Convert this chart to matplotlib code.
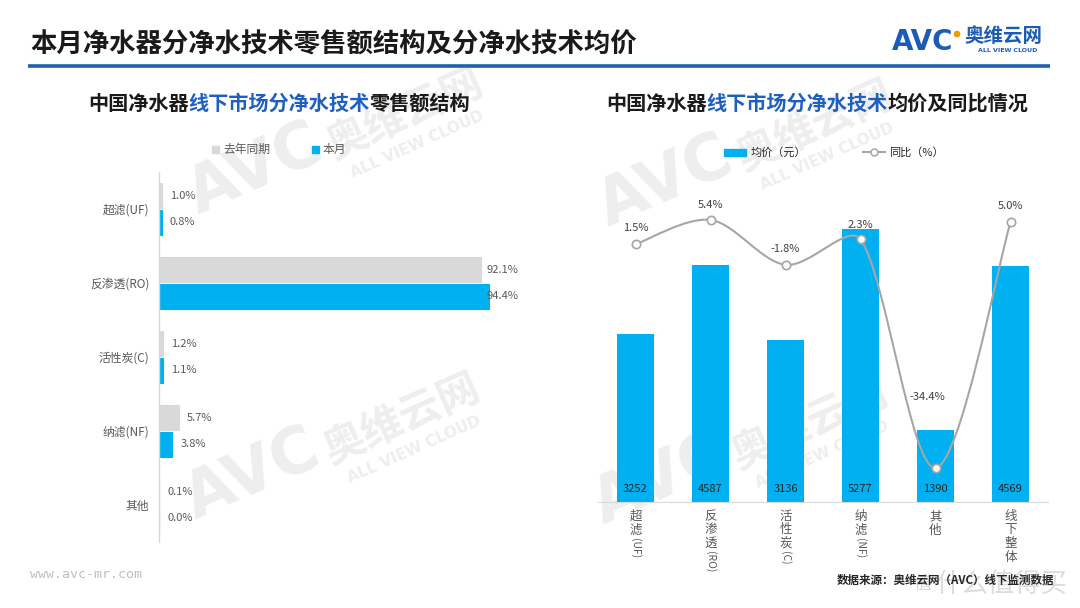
import numpy as np
import matplotlib
matplotlib.use('Agg')
import matplotlib.pyplot as plt
from matplotlib.path import Path
from matplotlib.patches import PathPatch, Rectangle, Circle
from matplotlib.lines import Line2D

plt.rcParams['font.family'] = ['Noto Sans CJK SC', 'DejaVu Sans']

# ---------------- data ----------------
left_categories = ['超滤(UF)', '反渗透(RO)', '活性炭(C)', '纳滤(NF)', '其他']
share_last_year = [1.0, 92.1, 1.2, 5.7, 0.1]
share_this_month = [0.8, 94.4, 1.1, 3.8, 0.0]

right_categories = ['超滤(UF)', '反渗透(RO)', '活性炭(C)', '纳滤(NF)', '其他', '线下整体']
avg_price = [3252, 4587, 3136, 5277, 1390, 4569]
yoy = [1.5, 5.4, -1.8, 2.3, -34.4, 5.0]

title = '本月净水器分净水技术零售额结构及分净水技术均价'
sub_left = ['中国净水器', '线下市场分净水技术', '零售额结构']
sub_right = ['中国净水器', '线下市场分净水技术', '均价及同比情况']
legend_left = ['去年同期', '本月']
legend_right = ['均价（元）', '同比（%）']
source = '数据来源：奥维云网（AVC）线下监测数据'
site = 'www.avc-mr.com'

# ---------------- style ----------------
W, H = 1080, 608
BLUE = '#00B0F0'
GRAY = '#D9D9D9'
LINE = '#A6A6A6'
TXT = '#595959'
DARK_BLUE = '#1F5FB4'

fig = plt.figure(figsize=(W / 100, H / 100), dpi=100)
fig.patch.set_facecolor('white')

# background axes in pixel coordinates for decorations
bg = fig.add_axes([0, 0, 1, 1], zorder=0)
bg.set_xlim(0, W)
bg.set_ylim(H, 0)
bg.axis('off')

# watermarks
WM = '#EEEEEE'
def watermark(cx, cy):
    bg.text(cx, cy, 'AVC', fontsize=46, fontweight='bold', color=WM, rotation=24,
            ha='center', va='center', family='DejaVu Sans', zorder=0)
    bg.text(cx + 150, cy - 55, '奥维云网', fontsize=30, fontweight='bold', color=WM,
            rotation=24, ha='center', va='center', zorder=0)
    bg.text(cx + 162, cy - 25, 'ALL VIEW CLOUD', fontsize=11, fontweight='bold',
            color=WM, rotation=24, ha='center', va='center', family='DejaVu Sans', zorder=0)

for c in [(255, 170), (252, 475), (665, 182), (660, 480)]:
    watermark(*c)

# title
bg.text(30, 45, title, fontsize=19, fontweight='bold', color='#1A1A1A', va='center', ha='left')
bg.plot([28, 1050], [66, 66], color=DARK_BLUE, lw=2.6, solid_capstyle='butt')

# logo
bg.text(892, 42, 'AVC', fontsize=20, fontweight='bold', color='#1B5CB4', va='center',
        ha='left', family='DejaVu Sans')
bg.add_patch(Circle((957, 34), 2.6, color='#F39800'))
bg.text(964, 37, '奥维云网', fontsize=14, fontweight='bold', color='#1B5CB4', va='center', ha='left')
bg.text(1008, 50, 'ALL VIEW CLOUD', fontsize=4.5, fontweight='bold', color='#1B5CB4',
        va='center', ha='center', family='DejaVu Sans')

# mixed colour subtitles
def mixed(x0, y, parts):
    colors = ['#1A1A1A', '#1F5FBF', '#1A1A1A']
    t = bg.text(x0, y, parts[0], fontsize=14.5, fontweight='bold', color=colors[0],
                va='center', ha='left')
    for p, c in zip(parts[1:], colors[1:]):
        t = bg.annotate(p, xy=(1, 0), xycoords=t, fontsize=14.5, fontweight='bold',
                        color=c, va='bottom', ha='left')

mixed(88, 103, sub_left)
mixed(606, 103, sub_right)

# footer
bg.text(30, 575, site, fontsize=9.5, color='#BFBFBF', family='DejaVu Sans Mono', va='center')
bg.text(837, 580, source, fontsize=8.3, fontweight='bold', color='#262626', va='center')
bg.text(913, 584, '值', fontsize=13, color='#D8D8D8', va='center', ha='left', zorder=0)
bg.text(935, 584, '什么值得买', fontsize=19, color='#DCDCDC', va='center', ha='left', zorder=0)

# ---------------- left chart ----------------
axL = fig.add_axes([159 / W, 1 - 542 / H, 360 / W, 370 / H], zorder=2)
axL.set_facecolor('none')
y = np.arange(len(left_categories))
h, off = 0.338, 0.182
axL.barh(y - off, share_last_year, height=h, color=GRAY, edgecolor=GRAY, linewidth=0.8)
axL.barh(y + off, share_this_month, height=h, color=BLUE, edgecolor=BLUE, linewidth=0.8)
axL.set_ylim(len(left_categories) - 0.5, -0.5)
axL.set_xlim(0, 102.9)
for vals, dy in [(share_last_year, -off), (share_this_month, off)]:
    for i, v in enumerate(vals):
        axL.annotate(f'{v:.1f}%', xy=(min(v, 91.4), i + dy), xytext=(8, 0),
                     textcoords='offset pixels', va='center', ha='left',
                     fontsize=8, color=TXT, annotation_clip=False)
axL.set_yticks(y)
axL.set_yticklabels(left_categories, fontsize=8.5, color=TXT)
axL.set_xticks([])
axL.tick_params(axis='y', length=0, pad=7)
for s in ['top', 'right', 'bottom']:
    axL.spines[s].set_visible(False)
axL.spines['left'].set_color(GRAY)
axL.spines['left'].set_linewidth(1.0)

# left legend
bg.add_patch(Rectangle((212, 145.5), 7, 7, color=GRAY))
bg.text(223, 149, legend_left[0], fontsize=8.5, color=TXT, va='center', ha='left')
bg.add_patch(Rectangle((312, 145.5), 7, 7, color=BLUE))
bg.text(323, 149, legend_left[1], fontsize=8.5, color=TXT, va='center', ha='left')

# ---------------- right chart ----------------
axR = fig.add_axes([598 / W, 1 - 502 / H, 450 / W, 332 / H], zorder=2)
axR.set_facecolor('none')
x = np.arange(len(right_categories))
axR.bar(x, avg_price, width=0.5, color=BLUE, zorder=2)
axR.set_xlim(-0.5, len(right_categories) - 0.5)
axR.set_ylim(0, 6417)
for i, p in enumerate(avg_price):
    axR.annotate(str(p), xy=(i, 0), xytext=(0, 13), textcoords='offset pixels',
                 ha='center', va='center', fontsize=8, color='#262626',
                 annotation_clip=False, zorder=5)
for s in ['top', 'right', 'left']:
    axR.spines[s].set_visible(False)
axR.spines['bottom'].set_color(GRAY)
axR.set_xticks([])
axR.set_yticks([])

# stacked vertical category labels
for i, name in enumerate(right_categories):
    if '(' in name:
        cjk, latin = name[:name.index('(')], name[name.index('('):]
    else:
        cjk, latin = name, ''
    t = axR.annotate('\n'.join(cjk), xy=(i, 0), xycoords=axR.get_xaxis_transform(),
                     xytext=(0, -8), textcoords='offset pixels', ha='center', va='top',
                     fontsize=9, color=TXT, linespacing=1.05, annotation_clip=False)
    if latin:
        axR.annotate(latin, xy=(0.5, 0), xycoords=t, xytext=(0, -1),
                     textcoords='offset pixels', ha='center', va='top', rotation=-90,
                     fontsize=7.5, color=TXT, annotation_clip=False)

# secondary axis for yoy line
ax2 = axR.twinx()
ax2.set_ylim(-39.87, 13.42)
ax2.axis('off')

pts = ax2.transData.transform(np.column_stack([x, yoy]).astype(float))
n = len(pts)
verts = [pts[0]]
codes = [Path.MOVETO]
def seglen(a, b):
    return float(np.hypot(*(b - a)))
for k in range(n - 1):
    p0 = pts[max(k - 1, 0)]
    p1 = pts[k]
    p2 = pts[k + 1]
    p3 = pts[min(k + 2, n - 1)]
    # tangent at p1, limited by neighbouring segment lengths
    t1 = (p2 - p0) / 6.0
    if k > 0:
        a, b = seglen(p0, p1), seglen(p1, p2)
        t1 = t1 * min(1.0, 2 * b / (a + b))
    t2 = (p3 - p1) / 6.0
    if k + 2 <= n - 1:
        a, b = seglen(p1, p2), seglen(p2, p3)
        t2 = t2 * min(1.0, 2 * a / (a + b))
    verts += [p1 + t1, p2 - t2, p2]
    codes += [Path.CURVE4] * 3
verts = ax2.transData.inverted().transform(np.array(verts))
ax2.add_patch(PathPatch(Path(verts, codes), fill=False, edgecolor=LINE, lw=1.5, zorder=3))
ax2.plot(x, yoy, linestyle='none', marker='o', ms=6, mfc='white', mec=LINE, mew=1.2, zorder=4)
label_offsets = [(0, 16), (0, 15), (0, 16), (0, 14), (-8, 71), (0, 16)]
for i, v in enumerate(yoy):
    ax2.annotate(f'{v:.1f}%', xy=(i, v), xytext=label_offsets[i], textcoords='offset pixels',
                 ha='center', va='center', fontsize=8, color='#404040',
                 annotation_clip=False, zorder=6)

# right legend
bg.add_patch(Rectangle((724, 149), 22, 7, color=BLUE))
bg.text(751, 152, legend_right[0], fontsize=8, color='#262626', va='center', ha='left')
bg.add_line(Line2D([863, 885], [152, 152], color=LINE, lw=1.5))
bg.plot([874], [152], marker='o', ms=5, mfc='white', mec=LINE, mew=1.1)
bg.text(889, 152, legend_right[1], fontsize=8, color='#262626', va='center', ha='left')

fig.savefig('out.png', dpi=100)
